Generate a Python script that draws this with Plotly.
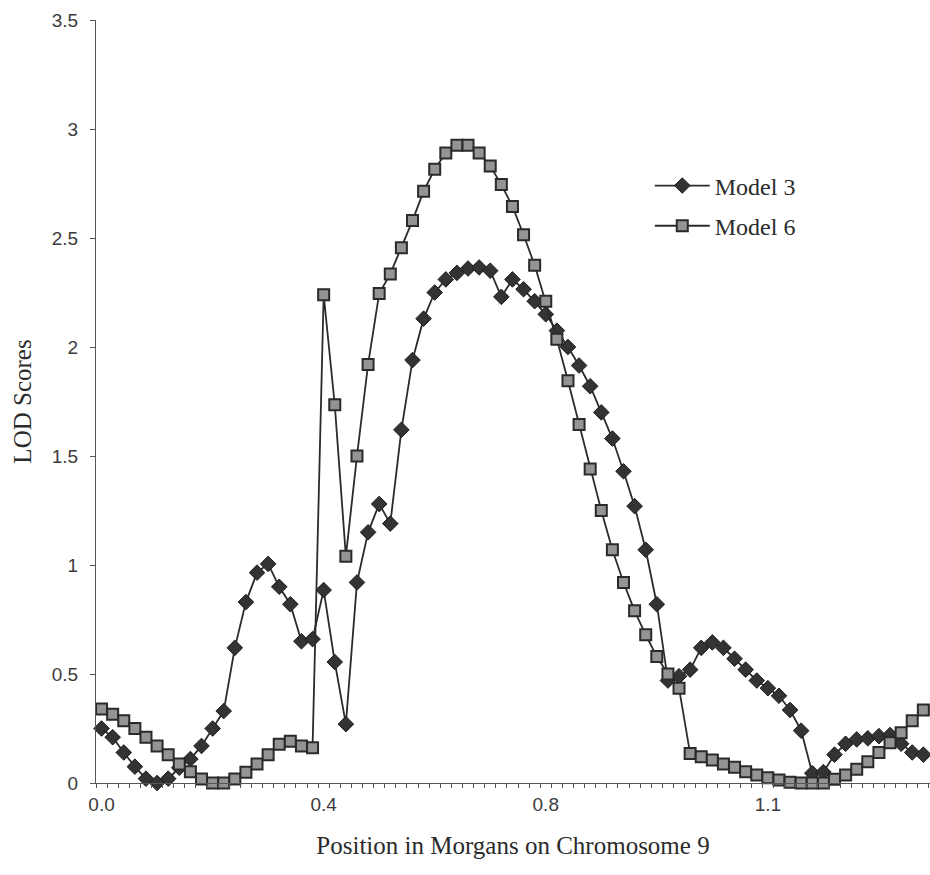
import plotly.graph_objects as go

# x positions are category slots (one per marker), labelled every 20 slots
slots = list(range(75))
tick_slots = [0, 20, 40, 60]
tick_labels = ["0.0", "0.4", "0.8", "1.1"]

model3 = [0.25, 0.21, 0.14, 0.075, 0.02, 0.0, 0.02, 0.07, 0.11, 0.17,
          0.25, 0.33, 0.62, 0.83, 0.965, 1.005, 0.90, 0.82, 0.65, 0.66,
          0.885, 0.555, 0.27, 0.92, 1.15, 1.28, 1.19, 1.62, 1.94, 2.13,
          2.25, 2.31, 2.34, 2.36, 2.365, 2.35, 2.23, 2.31, 2.265, 2.21,
          2.15, 2.075, 2.0, 1.915, 1.82, 1.70, 1.58, 1.43, 1.27, 1.07,
          0.82, 0.47, 0.49, 0.52, 0.62, 0.645, 0.62, 0.57, 0.52, 0.47,
          0.435, 0.40, 0.335, 0.24, 0.045, 0.05, 0.13, 0.18, 0.20, 0.205,
          0.215, 0.22, 0.18, 0.14, 0.13]

model6 = [0.34, 0.315, 0.285, 0.25, 0.21, 0.17, 0.13, 0.087, 0.052, 0.018,
          0.0, 0.0, 0.018, 0.049, 0.087, 0.13, 0.178, 0.192, 0.17, 0.162,
          2.24, 1.735, 1.04, 1.50, 1.92, 2.245, 2.335, 2.455, 2.58, 2.715,
          2.815, 2.89, 2.925, 2.925, 2.89, 2.83, 2.745, 2.645, 2.515, 2.375,
          2.21, 2.035, 1.845, 1.645, 1.44, 1.25, 1.07, 0.92, 0.79, 0.68,
          0.58, 0.50, 0.435, 0.135, 0.12, 0.105, 0.087, 0.072, 0.052, 0.037,
          0.024, 0.014, 0.003, 0.0, 0.0, 0.0, 0.017, 0.037, 0.063, 0.098,
          0.14, 0.185, 0.23, 0.285, 0.335]

y_ticks = [0, 0.5, 1, 1.5, 2, 2.5, 3, 3.5]
y_labels = ["0", "0.5", "1", "1.5", "2", "2.5", "3", "3.5"]

ink = "#2b2b2b"
tick_ink = "#3c3c3c"

fig = go.Figure()
fig.add_trace(go.Scatter(
    x=slots, y=model3, name="Model 3", mode="lines+markers",
    legendgroup="m3",
    line=dict(color=ink, width=1.8),
    marker=dict(symbol="diamond", size=12, color="#333333",
                line=dict(color="#1e1e1e", width=1)),
    cliponaxis=False,
))
fig.add_trace(go.Scatter(
    x=slots, y=model6, name="Model 6", mode="lines+markers",
    legendgroup="m6",
    line=dict(color=ink, width=1.8),
    marker=dict(symbol="square", size=11, color="#949494",
                line=dict(color="#2a2a2a", width=2)),
    cliponaxis=False,
))

fig.update_layout(
    width=930, height=875,
    margin=dict(l=96, r=0, t=20, b=92),
    paper_bgcolor="white", plot_bgcolor="white",
    showlegend=True,
    legend=dict(x=0.664, y=0.812, xanchor="left", yanchor="top",
                bgcolor="rgba(0,0,0,0)",
                font=dict(family="Liberation Serif", size=24, color=ink),
                itemwidth=55, tracegroupgap=6),
    font=dict(family="Liberation Sans", color=ink),
)

fig.update_xaxes(
    range=[-0.5, 74.6],
    tickmode="array", tickvals=tick_slots, ticktext=tick_labels,
    ticks="", ticklabelstandoff=4,
    tickfont=dict(family="Liberation Sans", size=19, color=tick_ink),
    showline=True, linecolor="#555555", linewidth=1.2,
    showgrid=False, zeroline=False,
    minor=dict(tickmode="linear", tick0=-0.5, dtick=1, ticks="outside",
               ticklen=4, tickcolor="#555555", tickwidth=1, showgrid=False),
    title=dict(text="Position in Morgans on Chromosome 9",
               font=dict(family="Liberation Serif", size=25, color=ink),
               standoff=22),
)
fig.update_yaxes(
    range=[0, 3.5],
    tickmode="array", tickvals=y_ticks, ticktext=y_labels,
    ticks="outside", ticklen=5, tickcolor="#555555", ticklabelstandoff=8,
    tickfont=dict(family="Liberation Sans", size=19, color=tick_ink),
    showline=True, linecolor="#555555", linewidth=1.2,
    showgrid=False, zeroline=False,
    title=dict(text="LOD Scores",
               font=dict(family="Liberation Serif", size=25, color=ink),
               standoff=12),
)

fig.write_html("out.html")
